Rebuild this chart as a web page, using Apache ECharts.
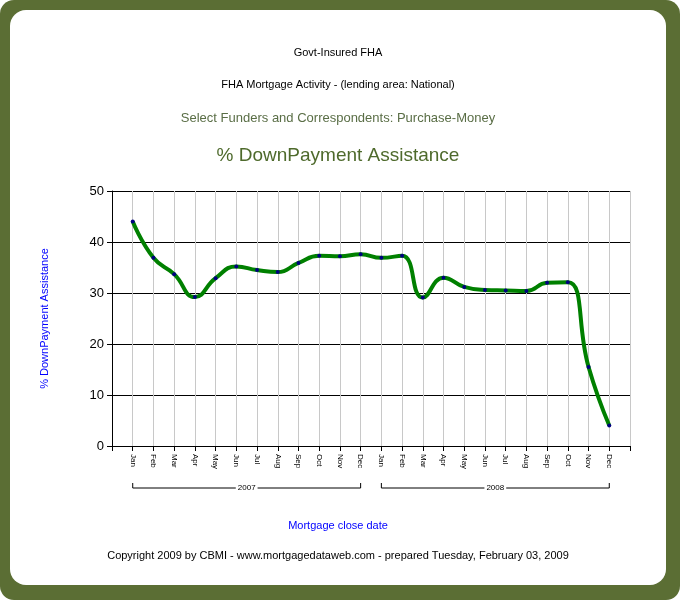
<!DOCTYPE html>
<html><head><meta charset="utf-8">
<script src="https://cdn.jsdelivr.net/npm/echarts@6/dist/echarts.min.js"></script>
<style>
html,body{margin:0;padding:0;width:680px;height:600px;background:#fff;}
#frame{position:absolute;left:0;top:0;width:680px;height:600px;background:#5b6e34;border-radius:14px;}
#chart{position:absolute;left:10px;top:10px;width:656px;height:575px;background:#fff;border-radius:16px;}
</style></head><body>
<div id="frame"></div><div id="chart"></div>
<script>
const months = ["Jan","Feb","Mar","Apr","May","Jun","Jul","Aug","Sep","Oct","Nov","Dec"];
const years = ["2007","2008"];
const values = [44.0,36.9,33.7,29.2,32.9,35.2,34.5,34.1,35.9,37.3,37.2,37.6,
                36.9,37.3,29.1,33.0,31.2,30.6,30.5,30.4,32.0,32.1,15.5,4.0];
const yTicks = [0,10,20,30,40,50];

// padded categories: empty slot at each end
const cats = [""].concat(months, months, [""]);
const data = [null].concat(values, [null]);

const chart = echarts.init(document.getElementById("chart"));
const blue = "#0000ff";
chart.setOption({
  animation: false,
  textStyle: {fontFamily: "Liberation Sans, Arial"},
  title: [
    {text: "Govt-Insured FHA", left: "center", top: 32, textStyle: {fontSize: 11, fontWeight: "normal", color: "#000"}},
    {text: "FHA Mortgage Activity - (lending area: National)", left: "center", top: 64, textStyle: {fontSize: 11, fontWeight: "normal", color: "#000"}},
    {text: "Select Funders and Correspondents: Purchase-Money", left: "center", top: 97, textStyle: {fontSize: 13, fontWeight: "normal", color: "#5a6e46"}},
    {text: "% DownPayment Assistance", left: "center", top: 131, textStyle: {fontSize: 19, fontWeight: "normal", color: "#4e6a2c"}},
    {text: "Mortgage close date", left: "center", top: 505, textStyle: {fontSize: 11, fontWeight: "normal", color: blue}},
    {text: "Copyright 2009 by CBMI - www.mortgagedataweb.com - prepared Tuesday, February 03, 2009", left: "center", top: 535, textStyle: {fontSize: 11, fontWeight: "normal", color: "#000"}}
  ],
  grid: {left: 102, right: 36, top: 181, bottom: 139, show: false},
  xAxis: {
    type: "category", data: cats, boundaryGap: false,
    axisLine: {lineStyle: {color: "#000"}},
    axisTick: {show: true, length: 5, interval: 0, lineStyle: {color: "#000"}},
    axisLabel: {rotate: -90, fontSize: 8, color: "#000", interval: 0, margin: 8},
    splitLine: {show: true, interval: 0, lineStyle: {color: "#c8c8c8"}}
  },
  yAxis: {
    type: "value", min: yTicks[0], max: yTicks[yTicks.length - 1], interval: 10,
    name: "% DownPayment Assistance", nameLocation: "middle", nameGap: 62,
    nameTextStyle: {color: blue, fontSize: 11},
    axisLine: {show: true, lineStyle: {color: "#000"}},
    axisTick: {show: true, length: 5, lineStyle: {color: "#000"}},
    axisLabel: {fontSize: 13, color: "#000"},
    splitLine: {lineStyle: {color: "#000"}}
  },
  series: [{
    type: "line", data: data, smooth: 0.5,
    lineStyle: {color: "#008000", width: 4},
    symbol: "circle", symbolSize: 4,
    itemStyle: {color: "#000080"}
  }]
});

// year brackets under the month labels
const g = [];
years.forEach(function (y, i) {
  const x1 = chart.convertToPixel({xAxisIndex: 0}, 1 + i * 12);
  const x2 = chart.convertToPixel({xAxisIndex: 0}, 12 + i * 12);
  const yy = 478;
  g.push({type: "polyline", shape: {points: [[x1, yy - 5], [x1, yy], [x2, yy], [x2, yy - 5]]}, style: {stroke: "#000", fill: null, lineWidth: 1}});
  g.push({type: "text", x: (x1 + x2) / 2, y: yy, style: {text: y, fontSize: 8, fill: "#000", backgroundColor: "#fff", align: "center", verticalAlign: "middle", padding: [0, 2]}});
});
chart.setOption({graphic: g});
</script>
</body></html>
